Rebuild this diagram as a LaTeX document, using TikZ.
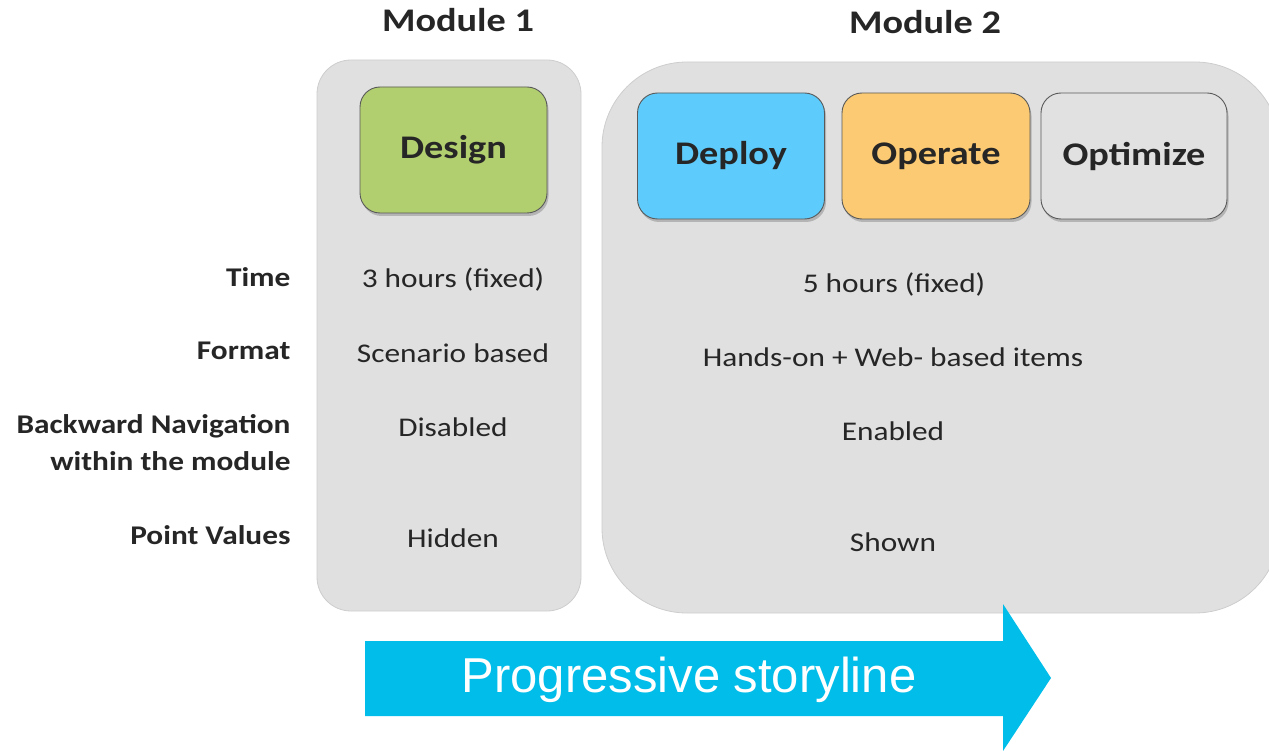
\documentclass[tikz,border=0pt]{standalone}
\usepackage{fontspec}
\setmainfont{Carlito}[FakeStretch=1.16]
\newfontfamily\arrowfont{Liberation Sans}
\usetikzlibrary{shadows}
\definecolor{panel}{HTML}{E0E0E0}
\definecolor{panelline}{HTML}{CDCDCD}
\definecolor{txt}{HTML}{262626}
\definecolor{designc}{HTML}{B2CF70}
\definecolor{deployc}{HTML}{5DCBFB}
\definecolor{operatec}{HTML}{FBCA72}
\definecolor{optimizec}{HTML}{E1E1E1}
\definecolor{arrowc}{HTML}{00BDE9}
\begin{document}
\begin{tikzpicture}[x=1pt,y=-1pt,
  panelbox/.style={fill=panel,draw=panelline,line width=0.8pt},
  phasebox/.style={draw=black!65,line width=0.9pt,rounded corners=20pt,
    drop shadow={opacity=0.45,shadow xshift=1.5pt,shadow yshift=-3pt},
    minimum width=187pt,minimum height=126pt,inner sep=0pt,
    font=\fontsize{33}{38}\selectfont\bfseries,text=txt},
  head/.style={font=\fontsize{33}{38}\selectfont\bfseries,text=txt},
  rowlabel/.style={anchor=east,align=right,font=\fontsize{27}{37}\selectfont\bfseries,text=txt},
  cellval/.style={font=\fontsize{27}{32}\selectfont,text=txt},
]
\useasboundingbox (0,0) rectangle (1269,751);
\clip (0,0) rectangle (1269,751);
% module panels
\draw[panelbox,rounded corners=34pt] (317,60) rectangle (581,611);
\draw[panelbox,rounded corners=85pt] (602,62) rectangle (1280,613);
% headers
\node[head] (m1) at (458,20) {Module 1};
\node[head] (m2) at (925,22) {Module 2};
% phases
\node[phasebox,fill=designc] (design) at (453.5,150) {Design};
\node[phasebox,fill=deployc] (deploy) at (731,156) {Deploy};
\node[phasebox,fill=operatec,minimum width=188pt] (operate) at (936,156) {Operate};
\node[phasebox,fill=optimizec,minimum width=186pt] (optimize) at (1134,156) {Optimize};
% row labels
\node[rowlabel] (ltime) at (294,277) {Time};
\node[rowlabel] (lformat) at (294,351) {Format};
\node[rowlabel] (lback) at (294,443) {Backward Navigation\\within the module};
\node[rowlabel] (lpoint) at (294,535) {Point Values};
% module 1 values
\node[cellval] (v1time) at (453,279) {3 hours (fixed)};
\node[cellval] (v1format) at (453,353) {Scenario based};
\node[cellval] (v1back) at (453,427) {Disabled};
\node[cellval] (v1point) at (453,538) {Hidden};
% module 2 values
\node[cellval] (v2time) at (894,284) {5 hours (fixed)};
\node[cellval] (v2format) at (893,357) {Hands-on + Web- based items};
\node[cellval] (v2back) at (893,431) {Enabled};
\node[cellval] (v2point) at (893,542) {Shown};
% progress arrow
\fill[arrowc] (365,641) -- (1003,641) -- (1003,604) -- (1051,678) -- (1003,751) -- (1003,716) -- (365,716) -- cycle;
\node[text=white,font=\arrowfont\fontsize{49}{53}\selectfont] (story) at (689,680) {Progressive storyline};
\end{tikzpicture}
\end{document}
